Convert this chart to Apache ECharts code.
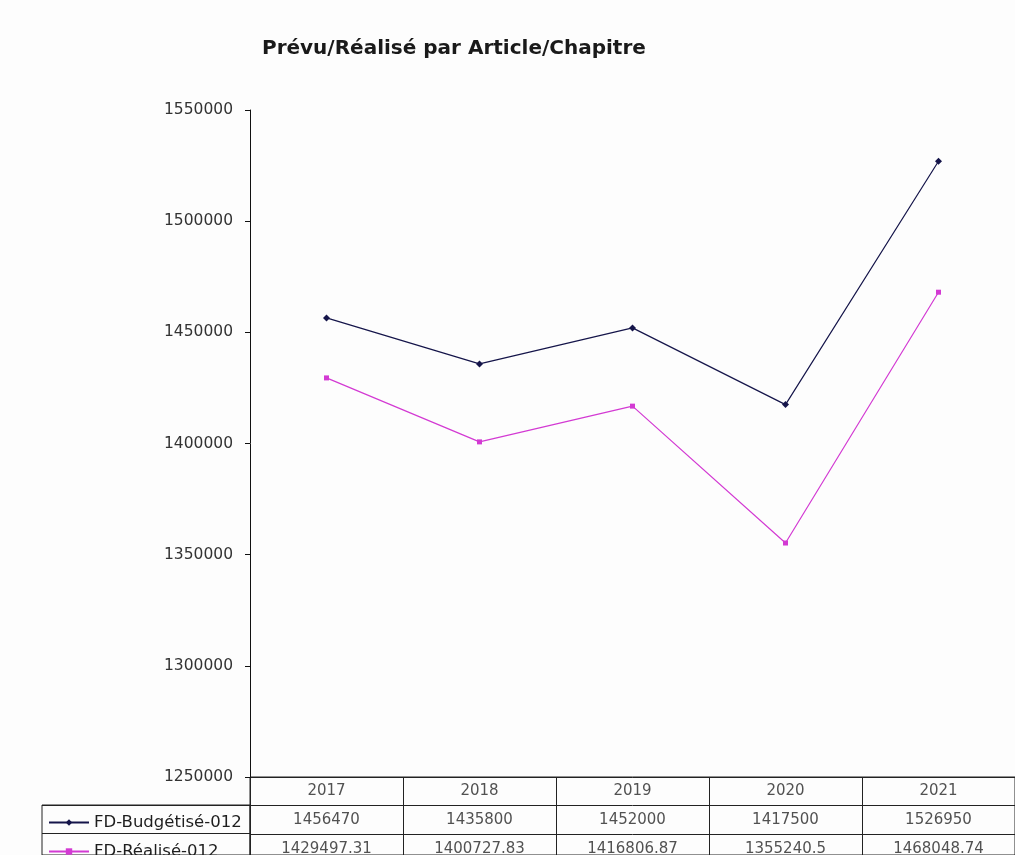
<!DOCTYPE html>
<html>
<head>
<meta charset="utf-8">
<script src="https://cdn.jsdelivr.net/npm/echarts@6/dist/echarts.min.js"></script>
<style>
html,body{margin:0;padding:0;background:#fdfdfd;}
#chart{width:1015px;height:855px;}
</style>
</head>
<body>
<div id="chart"></div>
<script>
const titleText = 'Prévu/Réalisé par Article/Chapitre';
const categories = ['2017', '2018', '2019', '2020', '2021'];
const seriesNames = ['FD-Budgétisé-012', 'FD-Réalisé-012'];
const budgetValues = [1456470, 1435800, 1452000, 1417500, 1526950];
const realisedValues = [1429497.31, 1400727.83, 1416806.87, 1355240.5, 1468048.74];
const yMin = 1250000, yMax = 1550000, yStep = 50000;

const FONT = 'DejaVu Sans, Verdana, sans-serif';
const ROW_H = 28.7;
const cellData = [];
categories.forEach((c, i) => {
  cellData.push([c, 0.5, c]);
  cellData.push([c, 1.5, String(budgetValues[i])]);
  cellData.push([c, 2.5, String(realisedValues[i])]);
});

const chart = echarts.init(document.getElementById('chart'), null, {renderer: 'canvas'});
const legendBase = {
  orient: 'vertical', left: 43, itemWidth: 40, itemHeight: 8,
  textStyle: {fontFamily: FONT, fontSize: 16.5, color: '#1e1e1e'}
};
chart.setOption({
  backgroundColor: '#fdfdfd',
  animation: false,
  title: {
    text: titleText, left: 257, top: 34,
    textStyle: {fontFamily: FONT, fontSize: 20, fontWeight: 'bold', color: '#1a1a1a'}
  },
  legend: [
    Object.assign({}, legendBase, {top: 809, data: [seriesNames[0]]}),
    Object.assign({}, legendBase, {top: 838, data: [seriesNames[1]]})
  ],
  grid: [
    {left: 250, top: 110, width: 770, height: 667},
    {left: 250, top: 777, width: 770, height: 78, show: true, borderColor: '#222', borderWidth: 1, backgroundColor: 'transparent'},
    {left: 42, top: 805, width: 208, height: 50, show: true, borderColor: '#222', borderWidth: 1, backgroundColor: 'transparent'}
  ],
  xAxis: [
    {gridIndex: 0, type: 'category', data: categories, boundaryGap: true,
      axisLine: {show: false}, axisTick: {show: false}, axisLabel: {show: false}},
    {gridIndex: 1, type: 'category', data: categories, boundaryGap: true,
      axisLine: {show: false}, axisTick: {show: false}, axisLabel: {show: false},
      splitLine: {show: true, lineStyle: {color: '#222', width: 1}}},
    {gridIndex: 2, type: 'category', data: ['x'], show: false}
  ],
  yAxis: [
    {gridIndex: 0, type: 'value', min: yMin, max: yMax, interval: yStep,
      axisLine: {show: true, lineStyle: {color: '#111', width: 1}},
      axisTick: {show: true, length: 5, lineStyle: {color: '#111'}},
      splitLine: {show: false},
      axisLabel: {margin: 17, fontFamily: FONT, fontSize: 15.5, color: '#333',
        formatter: v => String(v)}},
    {gridIndex: 1, type: 'value', min: 0, max: 78 / ROW_H, interval: 1, inverse: true,
      axisLine: {show: false}, axisTick: {show: false}, axisLabel: {show: false},
      splitLine: {show: true, lineStyle: {color: '#222', width: 1}}},
    {gridIndex: 2, type: 'value', min: 0, max: 50 / ROW_H, interval: 1, inverse: true,
      axisLine: {show: false}, axisTick: {show: false}, axisLabel: {show: false},
      splitLine: {show: true, lineStyle: {color: '#222', width: 1}}}
  ],
  series: [
    {name: seriesNames[0], type: 'line', xAxisIndex: 0, yAxisIndex: 0, data: budgetValues,
      symbol: 'diamond', symbolSize: 7, showSymbol: true,
      lineStyle: {color: '#15154a', width: 1.2}, itemStyle: {color: '#15154a'}},
    {name: seriesNames[1], type: 'line', xAxisIndex: 0, yAxisIndex: 0, data: realisedValues,
      symbol: 'rect', symbolSize: 5, showSymbol: true,
      lineStyle: {color: '#d33ad3', width: 1.2}, itemStyle: {color: '#d33ad3'}},
    {type: 'scatter', xAxisIndex: 1, yAxisIndex: 1, data: cellData, symbolSize: 1,
      itemStyle: {color: 'transparent'},
      label: {show: true, position: 'inside', formatter: p => p.data[2],
        fontFamily: FONT, fontSize: 15, color: '#262626'}}
  ]
});
</script>
</body>
</html>
